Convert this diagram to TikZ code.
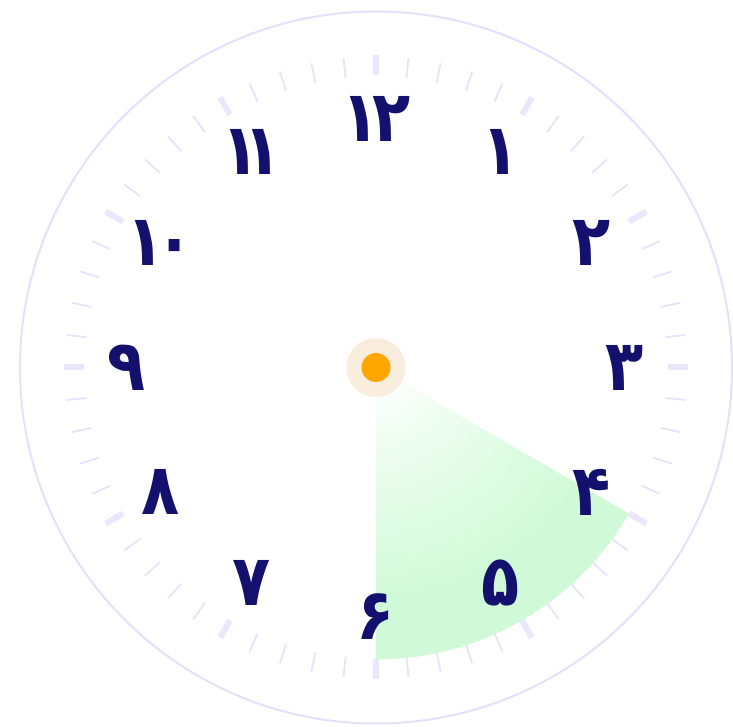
\documentclass[tikz,border=0pt]{standalone}
\usepackage{fontspec}
\usepackage{graphicx}
\usetikzlibrary{calc}
\newfontfamily\fa[Script=Arabic]{DejaVu Sans}
\definecolor{numcol}{RGB}{20,16,110}
\definecolor{ringcol}{RGB}{226,224,250}
\definecolor{majcol}{RGB}{233,231,252}
\definecolor{mincol}{RGB}{229,227,250}
\definecolor{sgreen}{RGB}{208,250,215}
\definecolor{dotcol}{RGB}{255,166,0}
\definecolor{halocol}{RGB}{249,238,222}
\newcommand{\clocknum}[1]{\scalebox{0.88}[1]{#1}}
\tikzset{
  num/.style={inner sep=0pt, text=numcol, font=\fa\bfseries\fontsize{71}{71}\selectfont},
  majtick/.style={draw=majcol, line width=6pt},
  mintick/.style={draw=mincol, line width=1.8pt},
}
\begin{document}
\begin{tikzpicture}[x=1pt,y=1pt]
\useasboundingbox (0,0) rectangle (733,727);
\coordinate (c) at (376,359.5);
% outer ring
\draw[ringcol, line width=2pt] (c) circle (356);
% ticks
\foreach \i in {0,...,59}{
  \pgfmathtruncatemacro{\m}{mod(\i,5)}
  \ifnum\m=0
    \draw[majtick] ($(c)+(90-6*\i:292)$) -- ($(c)+(90-6*\i:312)$);
  \else
    \draw[mintick] ($(c)+(90-6*\i:291)$) -- ($(c)+(90-6*\i:311)$);
  \fi
}
% shaded sector
\begin{scope}
  \clip (c) -- ($(c)+(-90:292)$) arc[start angle=-90, end angle=-30, radius=292] -- cycle;
  \fill[sgreen] (c) circle (300);
  \shade[inner color=white, outer color=sgreen] (c) circle (230);
\end{scope}
% numerals
\node[num] (n12) at ($(c)+(90:249)$) {\clocknum{۱\kern-8pt۲}};
\node[num] (n1) at ($(c)+(60:249)$) {\clocknum{۱}};
\node[num] (n2) at ($(c)+(30:249)$) {\clocknum{۲}};
\node[num] (n3) at ($(c)+(0:249)$) {\clocknum{۳}};
\node[num] (n4) at ($(c)+(-30:249)$) {\clocknum{۴}};
\node[num] (n5) at ($(c)+(-60:249)$) {\clocknum{۵}};
\node[num] (n6) at ($(c)+(-90:249)$) {\clocknum{۶}};
\node[num] (n7) at ($(c)+(-120:249)$) {\clocknum{۷}};
\node[num] (n8) at ($(c)+(-150:249)$) {\clocknum{۸}};
\node[num] (n9) at ($(c)+(180:249)$) {\clocknum{۹}};
\node[num] (n10) at ($(c)+(150:249)$) {\clocknum{۱\kern-10pt۰}};
\node[num] (n11) at ($(c)+(120:249)$) {\clocknum{۱\kern-19pt۱}};
% centre
\fill[halocol] (c) circle (29.5);
\fill[dotcol] (c) circle (14.5);
\end{tikzpicture}
\end{document}
